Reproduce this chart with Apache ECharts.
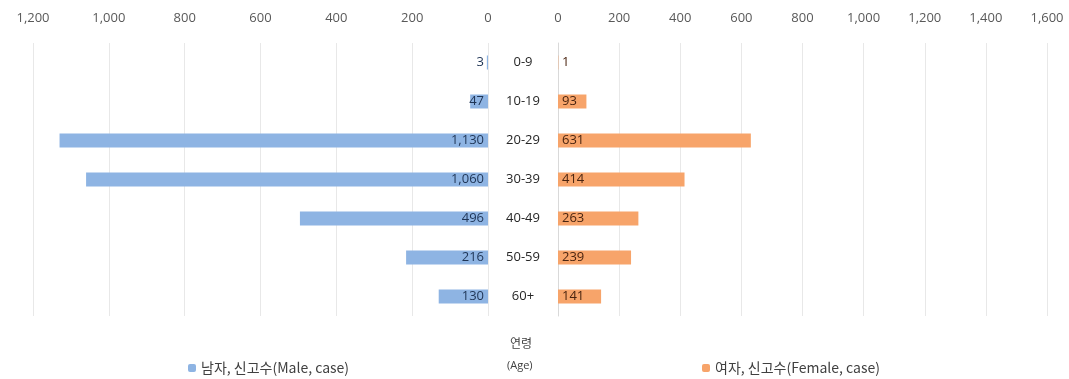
<!DOCTYPE html>
<html><head><meta charset="utf-8">
<script src="https://cdn.jsdelivr.net/npm/echarts@6/dist/echarts.min.js"></script>
<style>html,body{margin:0;padding:0;background:#fff}#c{width:1069px;height:379px}</style>
</head><body><div id="c"></div>
<script>
var categories = ['0-9','10-19','20-29','30-39','40-49','50-59','60+'];
var maleValues = [3, 47, 1130, 1060, 496, 216, 130];
var femaleValues = [1, 93, 631, 414, 263, 239, 141];
var maleName = '남자, 신고수(Male, case)';
var femaleName = '여자, 신고수(Female, case)';

var FONT = '"Noto Sans CJK KR","Noto Sans",sans-serif';
var fmt = function(v){ return Number(v).toLocaleString('en-US'); };
var chart = echarts.init(document.getElementById('c'));
chart.setOption({
  animation:false,
  textStyle:{fontFamily:FONT},
  grid:[
    {left:33, right:1069-488, top:43, bottom:379-316},
    {left:558, right:1069-1047, top:43, bottom:379-316}
  ],
  xAxis:[
    {gridIndex:0, type:'value', inverse:true, min:0, max:1200, interval:200, position:'top',
     axisLine:{show:false}, axisTick:{show:false},
     axisLabel:{color:'#595959', fontSize:13, margin:18, formatter:fmt, fontFamily:'"Open Sans",sans-serif'},
     splitLine:{lineStyle:{color:'#e8e8e8'}}},
    {gridIndex:1, type:'value', min:0, max:1600, interval:200, position:'top',
     axisLine:{show:false}, axisTick:{show:false},
     axisLabel:{color:'#595959', fontSize:13, margin:18, formatter:fmt, fontFamily:'"Open Sans",sans-serif'},
     splitLine:{lineStyle:{color:'#e8e8e8'}}}
  ],
  yAxis:[
    {gridIndex:0, type:'category', data:categories, inverse:true, position:'right',
     axisLine:{show:false}, axisTick:{show:false}, axisLabel:{show:false}},
    {gridIndex:1, type:'category', data:categories, inverse:true, position:'left',
     axisLine:{show:true, lineStyle:{color:'#d9d9d9'}}, axisTick:{show:false},
     axisLabel:{show:true, align:'center', margin:35, color:'#262626', fontSize:13, fontFamily:'"Open Sans",sans-serif'}}
  ],
  legend:[
    {data:[maleName], left:183, top:356, itemWidth:8, itemHeight:8, itemGap:4,
     textStyle:{color:'#404040', fontSize:14, fontFamily:FONT}},
    {data:[femaleName], left:697, top:356, itemWidth:8, itemHeight:8, itemGap:4,
     textStyle:{color:'#404040', fontSize:14, fontFamily:FONT}}
  ],
  graphic:[
    {type:'text', left:510, top:337, style:{text:'연령', fill:'#404040', font:'12px "Noto Sans CJK KR"'}},
    {type:'text', left:507, top:360, style:{text:'(Age)', fill:'#404040', font:'11px "Open Sans"'}}
  ],
  series:[
    {name:maleName, type:'bar', xAxisIndex:0, yAxisIndex:0, data:maleValues, barWidth:14,
     itemStyle:{color:'#8EB4E3'},
     label:{show:true, position:'insideRight', distance:4, color:'#1F3556', fontSize:13,
            fontFamily:'"Open Sans",sans-serif', formatter:function(p){return fmt(p.value);}}},
    {name:femaleName, type:'bar', xAxisIndex:1, yAxisIndex:1, data:femaleValues, barWidth:14,
     itemStyle:{color:'#F7A46A'},
     label:{show:true, position:'insideLeft', distance:4, color:'#4A2410', fontSize:13,
            fontFamily:'"Open Sans",sans-serif', formatter:function(p){return fmt(p.value);}}}
  ]
});
</script></body></html>
